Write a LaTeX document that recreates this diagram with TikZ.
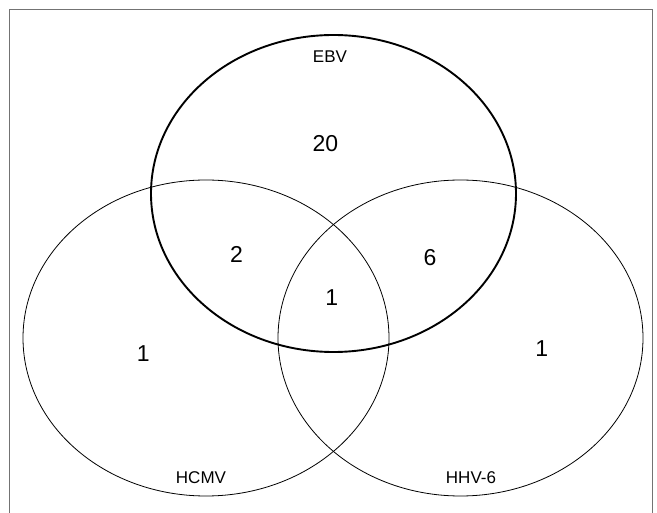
\documentclass[tikz,border=0pt]{standalone}
\usepackage{fontspec}
\setmainfont{Liberation Sans}
\usepackage{tikz}
\usetikzlibrary{positioning}
\tikzset{
frame/.style = {draw=black!55, line width=1pt},
vset/.style = {draw, line width=0.8pt},
mainset/.style = {draw, line width=1.9pt},
count/.style = {inner sep=0pt, font=\fontsize{23}{23}\selectfont},
setname/.style = {inner sep=0pt, font=\fontsize{17}{17}\selectfont}
}

\begin{document}
\begin{tikzpicture}[x=1pt, y=-1pt]
    \useasboundingbox (0,0) rectangle (657,513);
    \draw [frame] (9,9.3) rectangle (652,530);
    % the three sets
    \coordinate (hcmv) at (206,338);
    \coordinate (hhv) at (460.5,338);
    \coordinate (ebv) at (333.5,193.5);
    \draw [vset] (hcmv) ellipse [x radius=183, y radius=158];
    \draw [vset] (hhv) ellipse [x radius=182.5, y radius=158];
    \draw [mainset] (ebv) ellipse [x radius=182.5, y radius=158.5];
    % names
    \node [setname] (ebvname) at (330,56.5) {EBV};
    \node [setname] (hcmvname) at (201,478) {HCMV};
    \node [setname] (hhvname) at (471,478) {HHV-6};
    % counts
    \node [count] (onlyebv) at (325.5,143.3) {20};
    \node [count] (ebvhcmv) at (236.5,254.5) {2};
    \node [count] (ebvhhv) at (430,257.5) {6};
    \node [count] (all) at (331.8,297.7) {1};
    \node [count] (onlyhcmv) at (143.2,354) {1};
    \node [count] (onlyhhv) at (541.7,348.7) {1};
\end{tikzpicture}
\end{document}
